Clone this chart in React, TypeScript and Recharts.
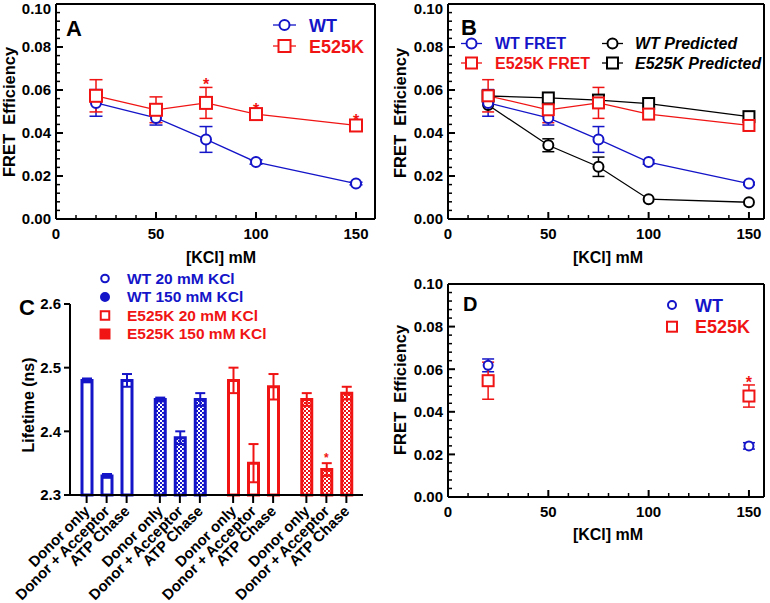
import React from 'react';
import {
  ComposedChart,
  BarChart,
  Bar,
  Line,
  XAxis,
  YAxis,
  ErrorBar,
  ReferenceDot,
  Cell,
} from 'recharts';

const BLUE = '#1414c8';
const RED = '#f01414';
const INK = '#000000';
const FONT = '"Liberation Sans", Arial, Helvetica, sans-serif';

// ---------------- data: panels A & B ----------------
const kcl = [20, 50, 75, 100, 150];
const wtFret = [0.054, 0.047, 0.037, 0.0265, 0.0165];
const wtFretErr = [0.0062, 0.0033, 0.006, 0.001, 0.0006];
const mutFret = [0.0573, 0.0508, 0.054, 0.0488, 0.0435];
const mutFretErr = [0.0075, 0.006, 0.0072, 0.0012, 0.0012];
const mutFretSig = [false, false, true, true, true];
const wtPredicted = [0.053, 0.0343, 0.0243, 0.0092, 0.0078];
const wtPredictedErr = [0, 0.003, 0.0045, 0, 0];
const mutPredicted = [0.0572, 0.0563, 0.0553, 0.0537, 0.0476];

// ---------------- data: panel D ----------------
const kclD = [20, 150];
const wtD = [0.0618, 0.024];
const wtDErr = [0.003, 0.0015];
const mutD = [0.0546, 0.0474];
const mutDErr = [0.0087, 0.0052];
const mutDSig = [false, true];

// ---------------- data: panel C ----------------
const sampleGroups = ['WT 20 mM KCl', 'WT 150 mM KCl', 'E525K 20 mM KCl', 'E525K 150 mM KCl'];
const groupIsMutant = [false, false, true, true];
const groupIsHighSalt = [false, true, false, true];
const conditions = ['Donor only', 'Donor + Acceptor', 'ATP Chase'];
const donorOnly = [2.48, 2.45, 2.48, 2.45];
const donorOnlyErr = [0.003, 0.003, 0.02, 0.01];
const donorAcceptor = [2.33, 2.39, 2.35, 2.34];
const donorAcceptorErr = [0.003, 0.01, 0.03, 0.01];
const atpChase = [2.48, 2.45, 2.47, 2.46];
const atpChaseErr = [0.01, 0.01, 0.02, 0.01];
const donorAcceptorSig = [false, false, false, true];

// ---------------- ticks ----------------
const fretXTicks = [0, 10, 20, 30, 40, 50, 60, 70, 80, 90, 100, 110, 120, 130, 140, 150];
const fretXLabels = [0, 50, 100, 150];
const fretYTicks = [
  0, 0.004, 0.008, 0.012, 0.016, 0.02, 0.024, 0.028, 0.032, 0.036, 0.04, 0.044, 0.048,
  0.052, 0.056, 0.06, 0.064, 0.068, 0.072, 0.076, 0.08, 0.084, 0.088, 0.092, 0.096, 0.1,
];
const fretYLabels = [0, 0.02, 0.04, 0.06, 0.08, 0.1];
const lifetimeTicks = [2.3, 2.4, 2.5, 2.6];

// ---------------- tables built from the arrays ----------------
const rowsAB = kcl.map((k, i) => ({
  kcl: k,
  wt: wtFret[i],
  wtErr: wtFretErr[i],
  mut: mutFret[i],
  mutErr: mutFretErr[i],
  wtPred: wtPredicted[i],
  wtPredErr: wtPredictedErr[i],
  mutPred: mutPredicted[i],
}));

const rowsD = kclD.map((k, i) => ({
  kcl: k,
  wt: wtD[i],
  wtErr: wtDErr[i],
  mut: mutD[i],
  mutErr: mutDErr[i],
}));

const lifetimeRows = sampleGroups.map((g, i) => ({
  group: g,
  donorOnly: donorOnly[i],
  donorAcceptor: donorAcceptor[i],
  atpChase: atpChase[i],
  donorOnlyErrBlue: groupIsMutant[i] ? null : donorOnlyErr[i],
  donorOnlyErrRed: groupIsMutant[i] ? donorOnlyErr[i] : null,
  donorAcceptorErrBlue: groupIsMutant[i] ? null : donorAcceptorErr[i],
  donorAcceptorErrRed: groupIsMutant[i] ? donorAcceptorErr[i] : null,
  atpChaseErrBlue: groupIsMutant[i] ? null : atpChaseErr[i],
  atpChaseErrRed: groupIsMutant[i] ? atpChaseErr[i] : null,
}));

// ---------------- helpers ----------------
const near = (a: number, list: number[]) => list.some((b) => Math.abs(a - b) < 1e-9);

type Side = 'bottom' | 'left' | 'top' | 'right';

function frameTick(side: Side, labels: number[], digits: number) {
  return (props: any) => {
    const { x, y, payload } = props;
    const v = payload.value as number;
    const major = near(v, labels);
    const len = major ? 7 : 4;
    let c: number[];
    if (side === 'bottom') c = [x, y, x, y - len];
    else if (side === 'top') c = [x, y, x, y + len];
    else if (side === 'left') c = [x, y, x + len, y];
    else c = [x, y, x - len, y];
    return (
      <g>
        <line x1={c[0]} y1={c[1]} x2={c[2]} y2={c[3]} stroke={INK} strokeWidth={major ? 2 : 1.5} />
        {major && side === 'bottom' ? (
          <text x={x} y={y + 19.5} textAnchor="middle" fontFamily={FONT} fontWeight="bold" fontSize={15} fill={INK}>
            {v.toFixed(digits)}
          </text>
        ) : null}
        {major && side === 'left' ? (
          <text
            x={x - 5}
            y={Math.max(y + 5.3, 13.8)}
            textAnchor="end"
            fontFamily={FONT}
            fontWeight="bold"
            fontSize={15}
            fill={INK}
          >
            {v.toFixed(digits)}
          </text>
        ) : null}
      </g>
    );
  };
}

const frameLine = { stroke: INK, strokeWidth: 2 };

function frameAxes(xMax: number) {
  return [
    <XAxis
      key="xb"
      dataKey="kcl"
      type="number"
      domain={[0, xMax]}
      ticks={fretXTicks}
      interval={0}
      height={1}
      tickSize={0}
      tickMargin={0}
      tickLine={false}
      axisLine={frameLine}
      tick={frameTick('bottom', fretXLabels, 0)}
    />,
    <XAxis
      key="xt"
      xAxisId="top"
      orientation="top"
      type="number"
      domain={[0, xMax]}
      ticks={fretXTicks}
      interval={0}
      height={1}
      tickSize={0}
      tickMargin={0}
      tickLine={false}
      axisLine={frameLine}
      tick={frameTick('top', fretXLabels, 0)}
    />,
    <YAxis
      key="yl"
      type="number"
      domain={[0, 0.1]}
      ticks={fretYTicks}
      interval={0}
      width={1}
      tickSize={0}
      tickMargin={0}
      tickLine={false}
      axisLine={frameLine}
      tick={frameTick('left', fretYLabels, 2)}
    />,
    <YAxis
      key="yr"
      yAxisId="right"
      orientation="right"
      type="number"
      domain={[0, 0.1]}
      ticks={fretYTicks}
      interval={0}
      width={1}
      tickSize={0}
      tickMargin={0}
      tickLine={false}
      axisLine={frameLine}
      tick={frameTick('right', fretYLabels, 2)}
    />,
  ];
}

const circleDot = (color: string, r: number) => (p: any) =>
  p.cx == null || p.cy == null ? (
    <g key={`c-${color}-${r}-${p.index}`} />
  ) : (
    <circle key={`c-${color}-${r}-${p.index}`} cx={p.cx} cy={p.cy} r={r} fill="#ffffff" stroke={color} strokeWidth={2} />
  );

const squareDot = (color: string, s: number) => (p: any) =>
  p.cx == null || p.cy == null ? (
    <g key={`s-${color}-${s}-${p.index}`} />
  ) : (
    <rect
      key={`s-${color}-${s}-${p.index}`}
      x={p.cx - s / 2}
      y={p.cy - s / 2}
      width={s}
      height={s}
      fill="#ffffff"
      stroke={color}
      strokeWidth={2}
    />
  );

const starLabel = (size: number, offset: number) => ({
  value: '*',
  position: 'top' as const,
  offset,
  fill: RED,
  fontSize: size,
  fontWeight: 'bold',
  fontFamily: FONT,
});

// ---------------- panel C ticks ----------------
const BAR_SIZE = 10;
const BAR_GAP = 10;

const lifetimeXTick = (props: any) => {
  const { x, y } = props;
  return (
    <g>
      {conditions.map((c, k) => {
        const tx = x + (k - 1) * (BAR_SIZE + BAR_GAP);
        const ax = tx + 4;
        const ay = y + 17;
        return (
          <g key={c}>
            <line x1={tx} x2={tx} y1={y} y2={y + 8} stroke={INK} strokeWidth={2} />
            <text
              x={ax}
              y={ay}
              textAnchor="end"
              transform={`rotate(-45 ${ax} ${ay})`}
              fontFamily={FONT}
              fontWeight="bold"
              fontSize={15}
              fill={INK}
            >
              {c}
            </text>
          </g>
        );
      })}
    </g>
  );
};

const lifetimeYTick = (props: any) => {
  const { x, y, payload } = props;
  return (
    <g>
      <line x1={x} x2={x - 6} y1={y} y2={y} stroke={INK} strokeWidth={2} />
      <text x={x - 9} y={y + 5.3} textAnchor="end" fontFamily={FONT} fontWeight="bold" fontSize={15} fill={INK}>
        {(payload.value as number).toFixed(1)}
      </text>
    </g>
  );
};

const groupColor = (i: number) => (groupIsMutant[i] ? RED : BLUE);
const groupFill = (i: number) =>
  groupIsHighSalt[i] ? `url(#chk-${groupIsMutant[i] ? 'red' : 'blue'})` : '#ffffff';

const conditionKeys = ['donorOnly', 'donorAcceptor', 'atpChase'];

// ---------------- panels ----------------
function PanelA() {
  return (
    <ComposedChart width={390} height={290} data={rowsAB} margin={{ top: 3, right: 14, bottom: 70, left: 55 }}>
      {frameAxes(159.5)}
      <Line
        dataKey="wt"
        stroke={BLUE}
        strokeWidth={1.3}
        dot={circleDot(BLUE, 5)}
        activeDot={false}
        isAnimationActive={false}
      >
        <ErrorBar dataKey="wtErr" width={6.5} stroke={BLUE} strokeWidth={1.5} isAnimationActive={false} />
      </Line>
      <Line
        dataKey="mut"
        stroke={RED}
        strokeWidth={1.3}
        dot={squareDot(RED, 12)}
        activeDot={false}
        isAnimationActive={false}
      >
        <ErrorBar dataKey="mutErr" width={6.5} stroke={RED} strokeWidth={1.5} isAnimationActive={false} />
      </Line>
      {kcl.map((k, i) =>
        mutFretSig[i] ? (
          <ReferenceDot
            key={`sa${i}`}
            x={k}
            y={mutFret[i] + mutFretErr[i]}
            r={0}
            fill="none"
            stroke="none"
            label={starLabel(16, -3)}
          />
        ) : null,
      )}
    </ComposedChart>
  );
}

function PanelB() {
  return (
    <ComposedChart width={385} height={290} data={rowsAB} margin={{ top: 3, right: 5, bottom: 70, left: 62 }}>
      {frameAxes(157.5)}
      <Line dataKey="wtPred" stroke={INK} strokeWidth={1.3} dot={circleDot(INK, 5)} activeDot={false} isAnimationActive={false}>
        <ErrorBar dataKey="wtPredErr" width={6} stroke={INK} strokeWidth={1.5} isAnimationActive={false} />
      </Line>
      <Line dataKey="mutPred" stroke={INK} strokeWidth={1.3} dot={squareDot(INK, 11)} activeDot={false} isAnimationActive={false} />
      <Line dataKey="wt" stroke={BLUE} strokeWidth={1.3} dot={circleDot(BLUE, 5)} activeDot={false} isAnimationActive={false}>
        <ErrorBar dataKey="wtErr" width={6} stroke={BLUE} strokeWidth={1.5} isAnimationActive={false} />
      </Line>
      <Line dataKey="mut" stroke={RED} strokeWidth={1.3} dot={squareDot(RED, 11)} activeDot={false} isAnimationActive={false}>
        <ErrorBar dataKey="mutErr" width={6} stroke={RED} strokeWidth={1.5} isAnimationActive={false} />
      </Line>
    </ComposedChart>
  );
}

function PanelC() {
  return (
    <BarChart
      width={390}
      height={323}
      data={lifetimeRows}
      margin={{ top: 24, right: 27, bottom: 107, left: 69 }}
      barSize={BAR_SIZE}
      barGap={BAR_GAP}
    >
      <defs>
        <pattern id="chk-blue" width={4} height={4} patternUnits="userSpaceOnUse">
          <rect width={4} height={4} fill={BLUE} />
          <rect x={0} y={0} width={2} height={2} fill="#ffffff" />
          <rect x={2} y={2} width={2} height={2} fill="#ffffff" />
        </pattern>
        <pattern id="chk-red" width={4} height={4} patternUnits="userSpaceOnUse">
          <rect width={4} height={4} fill={RED} />
          <rect x={0} y={0} width={2} height={2} fill="#ffffff" />
          <rect x={2} y={2} width={2} height={2} fill="#ffffff" />
        </pattern>
      </defs>
      <XAxis
        dataKey="group"
        type="category"
        interval={0}
        height={1}
        tickSize={0}
        tickMargin={0}
        tickLine={false}
        axisLine={frameLine}
        tick={lifetimeXTick}
      />
      <YAxis
        type="number"
        domain={[2.3, 2.6]}
        ticks={lifetimeTicks}
        interval={0}
        width={1}
        tickSize={0}
        tickMargin={0}
        tickLine={false}
        axisLine={frameLine}
        tick={lifetimeYTick}
      />
      {conditionKeys.map((key) => (
        <Bar key={key} dataKey={key} strokeWidth={3} isAnimationActive={false}>
          {lifetimeRows.map((_, i) => (
            <Cell key={`${key}-${i}`} fill={groupFill(i)} stroke={groupColor(i)} />
          ))}
          <ErrorBar dataKey={`${key}ErrBlue`} width={5} stroke={BLUE} strokeWidth={2} isAnimationActive={false} />
          <ErrorBar dataKey={`${key}ErrRed`} width={5} stroke={RED} strokeWidth={2} isAnimationActive={false} />
        </Bar>
      ))}
      {sampleGroups.map((g, i) =>
        donorAcceptorSig[i] ? (
          <ReferenceDot
            key={`sc${i}`}
            x={g}
            y={donorAcceptor[i] + donorAcceptorErr[i]}
            r={0}
            fill="none"
            stroke="none"
            label={starLabel(12, 1)}
          />
        ) : null,
      )}
    </BarChart>
  );
}

function PanelD() {
  return (
    <ComposedChart width={385} height={333} data={rowsD} margin={{ top: 13, right: 5, bottom: 105, left: 62 }}>
      {frameAxes(157.5)}
      <Line dataKey="wt" stroke="none" dot={circleDot(BLUE, 4.5)} activeDot={false} isAnimationActive={false}>
        <ErrorBar dataKey="wtErr" width={6} stroke={BLUE} strokeWidth={1.5} isAnimationActive={false} />
      </Line>
      <Line dataKey="mut" stroke="none" dot={squareDot(RED, 11)} activeDot={false} isAnimationActive={false}>
        <ErrorBar dataKey="mutErr" width={6} stroke={RED} strokeWidth={1.5} isAnimationActive={false} />
      </Line>
      {kclD.map((k, i) =>
        mutDSig[i] ? (
          <ReferenceDot
            key={`sd${i}`}
            x={k}
            y={mutD[i] + mutDErr[i]}
            r={0}
            fill="none"
            stroke="none"
            label={starLabel(16, -3)}
          />
        ) : null,
      )}
    </ComposedChart>
  );
}

// ---------------- overlay text / legends ----------------
function LegendCircle({ x, y, color, r = 5, filled = false }: any) {
  return <circle cx={x} cy={y} r={r} fill={filled ? color : '#ffffff'} stroke={color} strokeWidth={2} />;
}
function LegendSquare({ x, y, color, s = 11, filled = false }: any) {
  return <rect x={x - s / 2} y={y - s / 2} width={s} height={s} fill={filled ? color : '#ffffff'} stroke={color} strokeWidth={2} />;
}

function Overlay() {
  return (
    <svg
      width={770}
      height={603}
      style={{ position: 'absolute', left: 0, top: 0, pointerEvents: 'none' }}
      fontFamily={FONT}
      fontWeight="bold"
    >
      {/* panel letters */}
      <text x={66} y={36} fontSize={22} fill={INK}>A</text>
      <text x={461} y={34.5} fontSize={22} fill={INK}>B</text>
      <text x={19} y={315} fontSize={22} fill={INK}>C</text>
      <text x={463} y={311} fontSize={20} fill={INK}>D</text>

      {/* axis titles */}
      <text x={221} y={263} fontSize={16} textAnchor="middle" fill={INK}>[KCl] mM</text>
      <text x={608} y={263} fontSize={16} textAnchor="middle" fill={INK}>[KCl] mM</text>
      <text x={608} y={540} fontSize={16} textAnchor="middle" fill={INK}>[KCl] mM</text>
      <text transform="translate(15,112) rotate(-90)" fontSize={16.5} textAnchor="middle" fill={INK} style={{ whiteSpace: 'pre' }}>
        FRET  Efficiency
      </text>
      <text transform="translate(405.5,113) rotate(-90)" fontSize={16.5} textAnchor="middle" fill={INK} style={{ whiteSpace: 'pre' }}>
        FRET  Efficiency
      </text>
      <text transform="translate(405.5,390) rotate(-90)" fontSize={16.5} textAnchor="middle" fill={INK} style={{ whiteSpace: 'pre' }}>
        FRET  Efficiency
      </text>
      <text transform="translate(33.5,405) rotate(-90)" fontSize={16} textAnchor="middle" fill={INK}>
        Lifetime (ns)
      </text>

      {/* legend A */}
      <line x1={273} x2={296} y1={25} y2={25} stroke={BLUE} strokeWidth={1.3} />
      <LegendCircle x={284.5} y={25} color={BLUE} />
      <text x={309} y={31.5} fontSize={18} fill={BLUE}>WT</text>
      <line x1={273} x2={296} y1={46} y2={46} stroke={RED} strokeWidth={1.3} />
      <LegendSquare x={284.5} y={46} color={RED} s={12} />
      <text x={309} y={52.5} fontSize={18} fill={RED}>E525K</text>

      {/* legend B */}
      <line x1={461} x2={482} y1={43.5} y2={43.5} stroke={BLUE} strokeWidth={1.3} />
      <LegendCircle x={471.5} y={43.5} color={BLUE} />
      <text x={495} y={49.3} fontSize={16} fill={BLUE}>WT FRET</text>
      <line x1={461} x2={482} y1={63} y2={63} stroke={RED} strokeWidth={1.3} />
      <LegendSquare x={471.5} y={63} color={RED} />
      <text x={495} y={68.8} fontSize={16} fill={RED}>E525K FRET</text>
      <line x1={602} x2={623} y1={43.5} y2={43.5} stroke={INK} strokeWidth={1.3} />
      <LegendCircle x={612.5} y={43.5} color={INK} />
      <text x={635} y={49.3} fontSize={16} fontStyle="italic" fill={INK}>WT Predicted</text>
      <line x1={602} x2={623} y1={63} y2={63} stroke={INK} strokeWidth={1.3} />
      <LegendSquare x={612.5} y={63} color={INK} />
      <text x={635} y={68.8} fontSize={16} fontStyle="italic" fill={INK}>E525K Predicted</text>

      {/* legend C */}
      <LegendCircle x={105} y={278.5} color={BLUE} r={3.8} />
      <text x={127} y={283.9} fontSize={15.5} fill={BLUE}>{sampleGroups[0]}</text>
      <LegendCircle x={105} y={297} color={BLUE} r={4} filled />
      <text x={127} y={302.4} fontSize={15.5} fill={BLUE}>{sampleGroups[1]}</text>
      <LegendSquare x={105} y={315.5} color={RED} s={8.5} />
      <text x={127} y={320.9} fontSize={15.5} fill={RED}>{sampleGroups[2]}</text>
      <LegendSquare x={105} y={334} color={RED} s={9} filled />
      <text x={127} y={339.4} fontSize={15.5} fill={RED}>{sampleGroups[3]}</text>

      {/* legend D */}
      <LegendCircle x={672} y={305} color={BLUE} r={4} />
      <text x={695} y={311.5} fontSize={18} fill={BLUE}>WT</text>
      <LegendSquare x={672} y={326.7} color={RED} s={10} />
      <text x={695} y={333.2} fontSize={18} fill={RED}>E525K</text>
    </svg>
  );
}

export default function App() {
  return (
    <div style={{ position: 'absolute', left: 0, top: 0, width: 770, height: 603, background: '#ffffff', overflow: 'hidden' }}>
      <div style={{ position: 'absolute', left: 0, top: 0 }}>
        <PanelA />
      </div>
      <div style={{ position: 'absolute', left: 385, top: 0 }}>
        <PanelB />
      </div>
      <div style={{ position: 'absolute', left: 0, top: 280 }}>
        <PanelC />
      </div>
      <div style={{ position: 'absolute', left: 385, top: 270 }}>
        <PanelD />
      </div>
      <Overlay />
    </div>
  );
}
